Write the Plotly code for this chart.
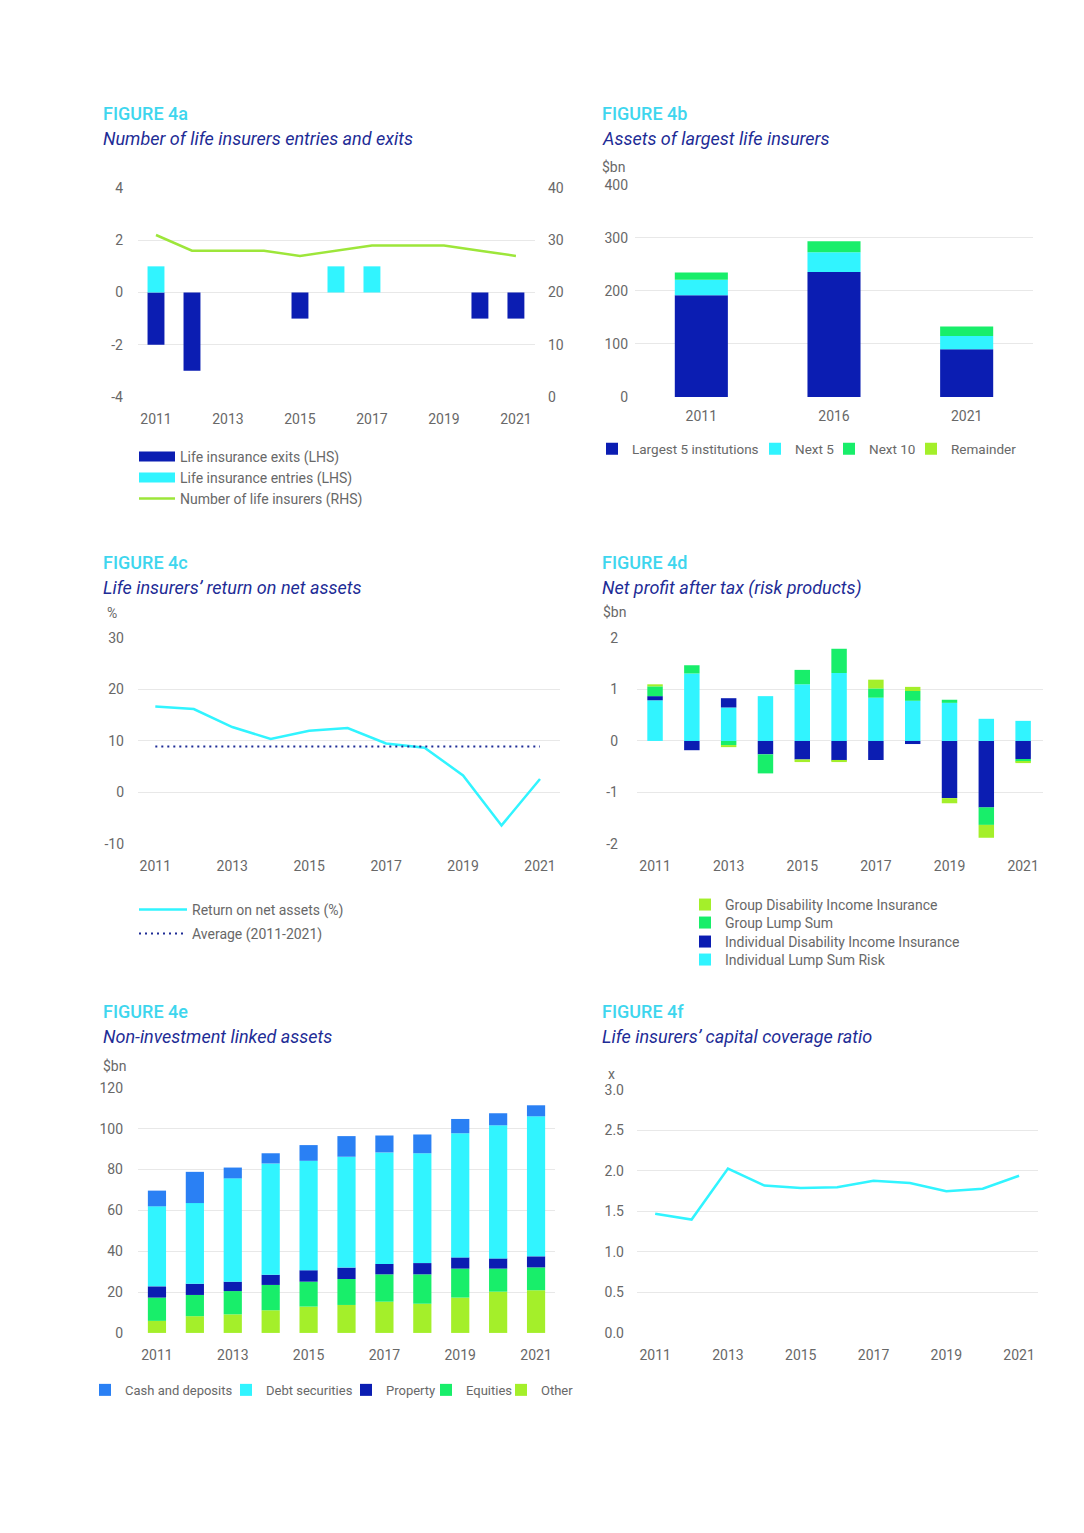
import plotly.graph_objects as go

# page: 1084x1533 window, body margin 8px -> figure 1068x1517
W, H = 1068, 1517
OFF = 8
# measured vertical mapping of the photographed page: shown_y = Y0 + YS * page_y
Y0, YS = 7.1, 0.9895

# ---------------- data ----------------
years = [2011, 2012, 2013, 2014, 2015, 2016, 2017, 2018, 2019, 2020, 2021]
tick_years = [2011, 2013, 2015, 2017, 2019, 2021]

# Figure 4a
exits = [-2, -3, 0, 0, -1, 0, 0, 0, 0, -1, -1]
entries = [1, 0, 0, 0, 0, 1, 1, 0, 0, 0, 0]
num_insurers = [31, 28, 28, 28, 27, 28, 29, 29, 29, 28, 27]
a_left_ticks = [-4, -2, 0, 2, 4]
a_left_labels = ["-4", "-2", "0", "2", "4"]

# Figure 4b
asset_years = ["2011", "2016", "2021"]
largest5 = [192, 236, 90]
next5 = [29, 37, 25]
next10 = [14, 21, 18]
remainder = [0, 0, 0]

# Figure 4c
rona = [16.7, 16.2, 12.7, 10.4, 12.0, 12.5, 9.5, 8.7, 3.3, -6.4, 2.6]
avg_years = [2011, 2021]
rona_avg = [8.9, 8.9]
c_ticks = [-10, 0, 10, 20, 30]
c_labels = ["-10", "0", "10", "20", "30"]

# Figure 4d
ilsr = [0.79, 1.31, 0.65, 0.87, 1.10, 1.32, 0.84, 0.78, 0.74, 0.43, 0.39]
idii = [0.08, -0.18, 0.18, -0.26, -0.36, -0.38, -0.37, -0.06, -1.11, -1.29, -0.35]
gls = [0.19, 0.16, -0.08, -0.37, 0.28, 0.47, 0.18, 0.19, 0.06, -0.34, -0.05]
gdii = [0.04, 0.00, -0.04, 0.00, -0.05, -0.03, 0.17, 0.08, -0.10, -0.25, -0.03]
d_ticks = [-2, -1, 0, 1, 2]
d_labels = ["-2", "-1", "0", "1", "2"]

# Figure 4e
other = [5.9, 8.2, 9.1, 11.1, 12.9, 13.7, 15.3, 14.3, 17.3, 20.2, 20.9]
equities = [11.4, 10.4, 11.4, 12.4, 12.2, 12.7, 13.4, 14.4, 14.2, 11.3, 11.2]
prop = [5.5, 5.5, 4.6, 5.0, 5.6, 5.6, 5.1, 5.5, 5.5, 5.0, 5.4]
debt = [39.2, 39.5, 50.6, 54.5, 53.6, 54.3, 54.6, 53.8, 60.8, 65.2, 68.6]
cash = [7.7, 15.3, 5.3, 5.0, 7.7, 10.1, 8.3, 9.2, 7.0, 5.9, 5.4]

# Figure 4f
ccr = [1.47, 1.40, 2.03, 1.82, 1.79, 1.80, 1.88, 1.85, 1.75, 1.78, 1.94]

# ---------------- style ----------------
DARK = "#0B1DB2"
CYAN = "#31F4FF"
GREEN = "#18EE6A"
LIME = "#A4EF2A"
CASH = "#2A80F4"
LINE_GREEN = "#9DE63A"
NAVY = "#1E2C96"
TITLE_CYAN = "#3ED6EE"
GRID = "#E8E8E8"
TXT = "#686868"
FONT = "Roboto"


def fx(px):
    return (px - OFF) / W


def fy(py):
    page = (py - Y0) / YS
    return 1 - (page - OFF) / H


fig = go.Figure()
legend_layout = {}
leg_count = [0]


def new_legend(origin_x, cy, itemwidth=30, size=14):
    leg_count[0] += 1
    key = "legend" if leg_count[0] == 1 else f"legend{leg_count[0]}"
    legend_layout[key] = dict(x=fx(origin_x), y=fy(cy), xanchor="left", yanchor="middle",
                              orientation="v", font=dict(family=FONT, size=size, color=TXT),
                              itemwidth=itemwidth, bgcolor="rgba(0,0,0,0)", borderwidth=0)
    return key


# ---- 4a ----
fig.add_trace(go.Bar(x=years, y=exits, width=0.47, marker_color=DARK, marker_line_width=0,
                     xaxis="x", yaxis="y", showlegend=False, name="Life insurance exits (LHS)"))
fig.add_trace(go.Bar(x=years, y=entries, width=0.47, marker_color=CYAN, marker_line_width=0,
                     xaxis="x", yaxis="y", showlegend=False, name="Life insurance entries (LHS)"))
fig.add_trace(go.Scatter(x=years, y=num_insurers, mode="lines", line=dict(color=LINE_GREEN, width=2.5),
                         xaxis="x", yaxis="y7", showlegend=False, name="Number of life insurers (RHS)"))
for col, wid, nm, cy in [(DARK, 10, "Life insurance exits (LHS)", 456),
                         (CYAN, 10, "Life insurance entries (LHS)", 477),
                         (LINE_GREEN, 2.5, "Number of life insurers (RHS)", 498)]:
    fig.add_trace(go.Scatter(x=[None], y=[None], mode="lines", line=dict(color=col, width=wid),
                             xaxis="x", yaxis="y", name=nm, legend=new_legend(134, cy, 36)))

# ---- 4b ----
for vals, col, nm, tx in [(largest5, DARK, "Largest 5 institutions", 627), (next5, CYAN, "Next 5", 790),
                          (next10, GREEN, "Next 10", 864), (remainder, LIME, "Remainder", 946)]:
    fig.add_trace(go.Bar(x=asset_years, y=vals, width=0.4, marker_color=col, marker_line_width=0,
                         xaxis="x2", yaxis="y2", name=nm, legend=new_legend(tx + 5 - 40, 448, size=13.5)))

# ---- 4c ----
fig.add_trace(go.Scatter(x=years, y=rona, mode="lines", line=dict(color=CYAN, width=2.5),
                         xaxis="x3", yaxis="y3", name="Return on net assets (%)",
                         legend=new_legend(134, 909, 48)))
fig.add_trace(go.Scatter(x=avg_years, y=rona_avg, mode="lines", line=dict(color=NAVY, width=2, dash="2px,4px"),
                         xaxis="x3", yaxis="y3", name="Average (2011-2021)",
                         legend=new_legend(134, 933, 48)))

# ---- 4d ----
for vals, col, nm, cy in [(ilsr, CYAN, "Individual Lump Sum Risk", 959),
                          (idii, DARK, "Individual Disability Income Insurance", 941),
                          (gls, GREEN, "Group Lump Sum", 922),
                          (gdii, LIME, "Group Disability Income Insurance", 904)]:
    fig.add_trace(go.Bar(x=years, y=vals, width=0.42, marker_color=col, marker_line_width=0,
                         xaxis="x4", yaxis="y4", name=nm, legend=new_legend(721 + 4 - 40, cy)))

# ---- 4e ----
for vals, col, nm, tx in [(other, LIME, "Other", 536), (equities, GREEN, "Equities", 461),
                          (prop, DARK, "Property", 381), (debt, CYAN, "Debt securities", 261),
                          (cash, CASH, "Cash and deposits", 120)]:
    fig.add_trace(go.Bar(x=years, y=vals, width=0.48, marker_color=col, marker_line_width=0,
                         xaxis="x5", yaxis="y5", name=nm, legend=new_legend(tx + 5 - 40, 1389, size=13)))

# ---- 4f ----
fig.add_trace(go.Scatter(x=years, y=ccr, mode="lines", line=dict(color=CYAN, width=2.5),
                         xaxis="x6", yaxis="y6", showlegend=False, name="Capital coverage ratio"))

tickfont = dict(family=FONT, size=14, color=TXT)


def xax(l, r, anchor, rng, **kw):
    d = dict(domain=[fx(l), fx(r)], anchor=anchor, range=rng, showgrid=False, zeroline=False,
             showline=False, ticks="", tickfont=tickfont, ticklabelstandoff=12, fixedrange=True)
    d.update(kw)
    return d


def yax(top, bottom, anchor, rng, dtick, standoff=12, **kw):
    d = dict(domain=[fy(bottom), fy(top)], anchor=anchor, range=rng, dtick=dtick, showgrid=True,
             gridcolor=GRID, gridwidth=1, zeroline=False, showline=False, ticks="",
             tickfont=tickfont, ticklabelstandoff=standoff, fixedrange=True)
    d.update(kw)
    return d


fig.update_layout(
    width=W, height=H, margin=dict(l=0, r=0, t=0, b=0),
    paper_bgcolor="white", plot_bgcolor="white",
    font=dict(family=FONT, color=TXT),
    barmode="relative",
    xaxis=xax(138, 535, "y", [2010.5, 2021.53], tickvals=tick_years),
    yaxis=yax(187, 396, "x", [-4, 4], 2, standoff=14, tickvals=a_left_ticks, ticktext=a_left_labels),
    yaxis7=dict(overlaying="y", side="right", anchor="x", range=[0, 40], dtick=10, showgrid=False,
                zeroline=False, showline=False, ticks="", tickfont=tickfont, ticklabelstandoff=12,
                fixedrange=True),
    xaxis2=xax(635, 1033, "y2", [-0.5, 2.5], type="category", ticklabelstandoff=9),
    yaxis2=yax(184, 396, "x2", [0, 400], 100, standoff=6),
    xaxis3=xax(138, 560, "y3", [2010.55, 2021.52], tickvals=tick_years),
    yaxis3=yax(637, 843, "x3", [-10, 30], 10, standoff=13, tickvals=c_ticks, ticktext=c_labels),
    xaxis4=xax(637, 1043, "y4", [2010.51, 2021.54], tickvals=tick_years),
    yaxis4=yax(637, 843, "x4", [-2, 2], 1, standoff=18, tickvals=d_ticks, ticktext=d_labels),
    xaxis5=xax(138, 555, "y5", [2010.5, 2021.5], tickvals=tick_years),
    yaxis5=yax(1087, 1332, "x5", [0, 120], 20, standoff=14),
    xaxis6=xax(637, 1038, "y6", [2010.5, 2021.52], tickvals=tick_years),
    yaxis6=yax(1089, 1332, "x6", [0, 3], 0.5, standoff=12, tickformat=".1f"),
    **legend_layout,
)

annotations = []


def add_text(px, py, text, size, color, italic=False, weight=None):
    t = f"<i>{text}</i>" if italic else text
    f = dict(family=FONT, size=size, color=color)
    if weight:
        f["weight"] = weight
    annotations.append(dict(x=fx(px), y=fy(py), xref="paper", yref="paper", text=t, showarrow=False,
                            xanchor="left", yanchor="middle", font=f))


panels = [
    (103, 113, "FIGURE 4a", "Number of life insurers entries and exits"),
    (602, 113, "FIGURE 4b", "Assets of largest life insurers"),
    (103, 562, "FIGURE 4c", "Life insurers’ return on net assets"),
    (602, 562, "FIGURE 4d", "Net profit after tax (risk products)"),
    (103, 1011, "FIGURE 4e", "Non-investment linked assets"),
    (602, 1011, "FIGURE 4f", "Life insurers’ capital coverage ratio"),
]
for px, py, t1, t2 in panels:
    add_text(px - 2, py, t1, 18, TITLE_CYAN, weight=500)
    add_text(px - 2, py + 25, t2, 18, NAVY, italic=True)

add_text(600, 166, "$bn", 14, TXT)
add_text(105, 612, "%", 14, TXT)
add_text(601, 611, "$bn", 14, TXT)
add_text(101, 1065, "$bn", 14, TXT)
add_text(606, 1073, "x", 14, TXT)

fig.update_layout(annotations=annotations)

fig.write_html("out.html")
